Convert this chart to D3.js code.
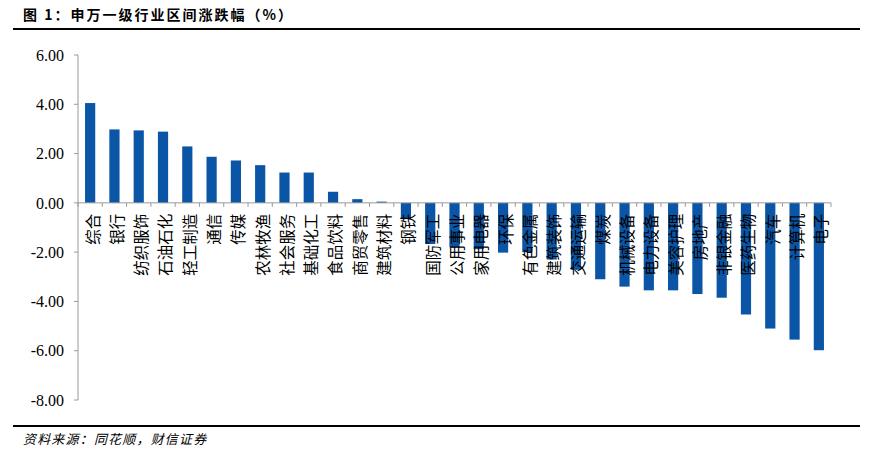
<!DOCTYPE html>
<html>
  <head>
    <meta charset="utf-8" />
    <title>申万一级行业区间涨跌幅</title>
    <script type="text/javascript" src="https://d3js.org/d3.v7.min.js"></script>
    <style>
      body { margin: 0; background: #fff; }
      .ytick { font-family: "Liberation Serif", "DejaVu Serif", serif; font-size: 16px; }
    </style>
  </head>
  <body>
    <div id="chart"></div>
    <script>
const industries = ['综合', '银行', '纺织服饰', '石油石化', '轻工制造', '通信', '传媒', '农林牧渔',
  '社会服务', '基础化工', '食品饮料', '商贸零售', '建筑材料', '钢铁', '国防军工', '公用事业',
  '家用电器', '环保', '有色金属', '建筑装饰', '交通运输', '煤炭', '机械设备', '电力设备',
  '美容护理', '房地产', '非银金融', '医药生物', '汽车', '计算机', '电子'];
const changes = [4.05, 2.98, 2.94, 2.89, 2.29, 1.87, 1.72, 1.53,
  1.23, 1.23, 0.45, 0.15, 0.05, -0.66, -1.67, -1.80,
  -1.88, -2.02, -2.00, -2.30, -2.72, -3.10, -3.40, -3.55,
  -3.55, -3.70, -3.85, -4.53, -5.10, -5.55, -5.98];
const yTicks = [6, 4, 2, 0, -2, -4, -6, -8];

const width = 871, height = 458;
const svg = d3.select('#chart').append('svg')
  .attr('width', width)
  .attr('height', height);

// title and rules
svg.append('text')
  .attr('x', 23).attr('y', 20)
  .style('font-family', '"Noto Sans CJK SC", sans-serif')
  .style('font-size', '14px')
  .style('font-weight', 'bold')
  .style('letter-spacing', '2px')
  .text('图 1：申万一级行业区间涨跌幅（%）');
svg.append('line')
  .attr('x1', 13).attr('x2', 860).attr('y1', 29).attr('y2', 29)
  .attr('stroke', '#000').attr('stroke-width', 2);
svg.append('line')
  .attr('x1', 13).attr('x2', 860).attr('y1', 426).attr('y2', 426)
  .attr('stroke', '#000').attr('stroke-width', 2);
// skewed by hand so the CJK glyphs look italic
svg.append('text')
  .attr('x', 23).attr('y', 444)
  .style('font-family', '"Noto Sans CJK SC", sans-serif')
  .style('font-size', '13px')
  .style('letter-spacing', '1.2px')
  .attr('transform', 'skewX(-14)')
  .attr('dx', 444 * Math.tan(14 * Math.PI / 180))
  .text('资料来源：同花顺，财信证券');

const x = d3.scaleBand().domain(industries).range([78, 831]).paddingInner(0.58).paddingOuter(0.29);
const y = d3.scaleLinear().domain([-8, 6]).range([400, 55]);

// y axis, drawn by hand so the serif font sticks
svg.append('line')
  .attr('x1', 78).attr('x2', 78).attr('y1', y(6)).attr('y2', y(-8))
  .attr('stroke', '#999');
const yt = svg.append('g').selectAll('g')
  .data(yTicks)
  .join('g')
  .attr('transform', d => `translate(78,${y(d)})`);
yt.append('line').attr('x1', -4).attr('x2', 0).attr('stroke', '#999');
yt.append('text')
  .attr('class', 'ytick')
  .attr('x', -14)
  .attr('dy', '0.36em')
  .attr('text-anchor', 'end')
  .attr('fill', '#000')
  .text(d => d3.format('.2f')(d).replace('−', '-'));

// bars
svg.append('g').selectAll('rect')
  .data(industries)
  .join('rect')
  .attr('x', d => x(d))
  .attr('width', x.bandwidth())
  .attr('y', (d, i) => Math.min(y(changes[i]), y(0)))
  .attr('height', (d, i) => Math.abs(y(changes[i]) - y(0)))
  .attr('fill', '#0b55a6');

// zero line with ticks at band boundaries
const step = x.step();
svg.append('line')
  .attr('x1', 78).attr('x2', 831).attr('y1', y(0)).attr('y2', y(0))
  .attr('stroke', '#999');
svg.append('g').selectAll('line')
  .data(d3.range(industries.length + 1))
  .join('line')
  .attr('x1', i => 78 + i * step).attr('x2', i => 78 + i * step)
  .attr('y1', y(0)).attr('y2', y(0) + 4)
  .attr('stroke', '#999');

// category labels, rotated
svg.append('g').selectAll('text')
  .data(industries)
  .join('text')
  .attr('transform', d => `translate(${x(d) + x.bandwidth() / 2 + 3},${y(0) + 11}) rotate(-90)`)
  .attr('dy', '0.35em')
  .attr('text-anchor', 'end')
  .style('font-family', '"Noto Sans CJK SC", sans-serif')
  .style('font-size', '15.5px')
  .attr('fill', '#000')
  .text(d => d);
    </script>
  </body>
</html>
